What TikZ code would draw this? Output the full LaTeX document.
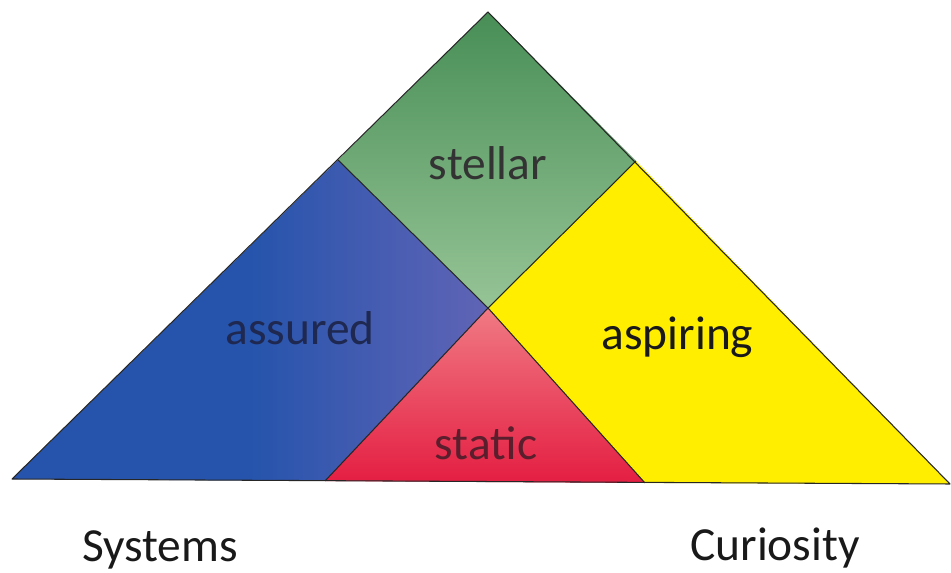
\documentclass[tikz,border=0pt]{standalone}
\usepackage{fontspec}
\setmainfont{Carlito}
\usetikzlibrary{calc}

\definecolor{stellargreen}{RGB}{72,142,86}
\definecolor{stellarlight}{RGB}{150,196,150}
\definecolor{assuredblue}{RGB}{38,84,172}
\definecolor{assuredlight}{RGB}{96,100,182}
\definecolor{aspiringyellow}{RGB}{255,238,0}
\definecolor{staticred}{RGB}{228,30,66}
\definecolor{staticpink}{RGB}{240,122,132}

\begin{document}
\begin{tikzpicture}[
  edge/.style={draw=black!85, line width=0.6pt, line join=round},
  lab/.style={font=\fontsize{27}{32}\selectfont, anchor=base, inner sep=0pt},
  axis/.style={font=\fontsize{27}{32}\selectfont, anchor=base, inner sep=0pt, text=black!90}]
\useasboundingbox (0,0) rectangle (19.02,11.46);
% corners of the big triangle and the inner points
\coordinate (top) at (9.76,11.22);
\coordinate (dl) at (6.76,8.26);
\coordinate (dr) at (12.72,8.24);
\coordinate (mid) at (9.76,5.30);
\coordinate (bl) at (0.24,1.88);
\coordinate (br) at (19.00,1.78);
\coordinate (sl) at (6.50,1.84);
\coordinate (sr) at (12.90,1.80);
% regions
\shade[top color=stellargreen, bottom color=stellarlight] (top) -- (dr) -- (mid) -- (dl) -- cycle;
\shade[left color=assuredblue, right color=assuredlight, middle color=assuredblue] (dl) -- (mid) -- (sl) -- (bl) -- cycle;
\fill[aspiringyellow] (dr) -- (br) -- (sr) -- (mid) -- cycle;
\shade[top color=staticpink, bottom color=staticred] (mid) -- (sr) -- (sl) -- cycle;
% outlines
\draw[edge] (top) -- (br) -- (bl) -- cycle;
\draw[edge] (dl) -- (mid) -- (sr);
\draw[edge] (dr) -- (mid) -- (sl);
% labels
\node[lab, text=black!80] (stellar) at (9.76,7.86) {stellar};
\node[lab, text={rgb,255:red,30;green,40;blue,80}] (assured) at (6.00,4.56) {assured};
\node[lab, text=black!90] (aspiring) at (13.55,4.46) {aspiring};
\node[lab, text={rgb,255:red,90;green,30;blue,45}] (static) at (9.72,2.26) {static};
\node[axis] (systems) at (3.20,0.22) {Systems};
\node[axis] (curiosity) at (15.50,0.24) {Curiosity};
\end{tikzpicture}
\end{document}
